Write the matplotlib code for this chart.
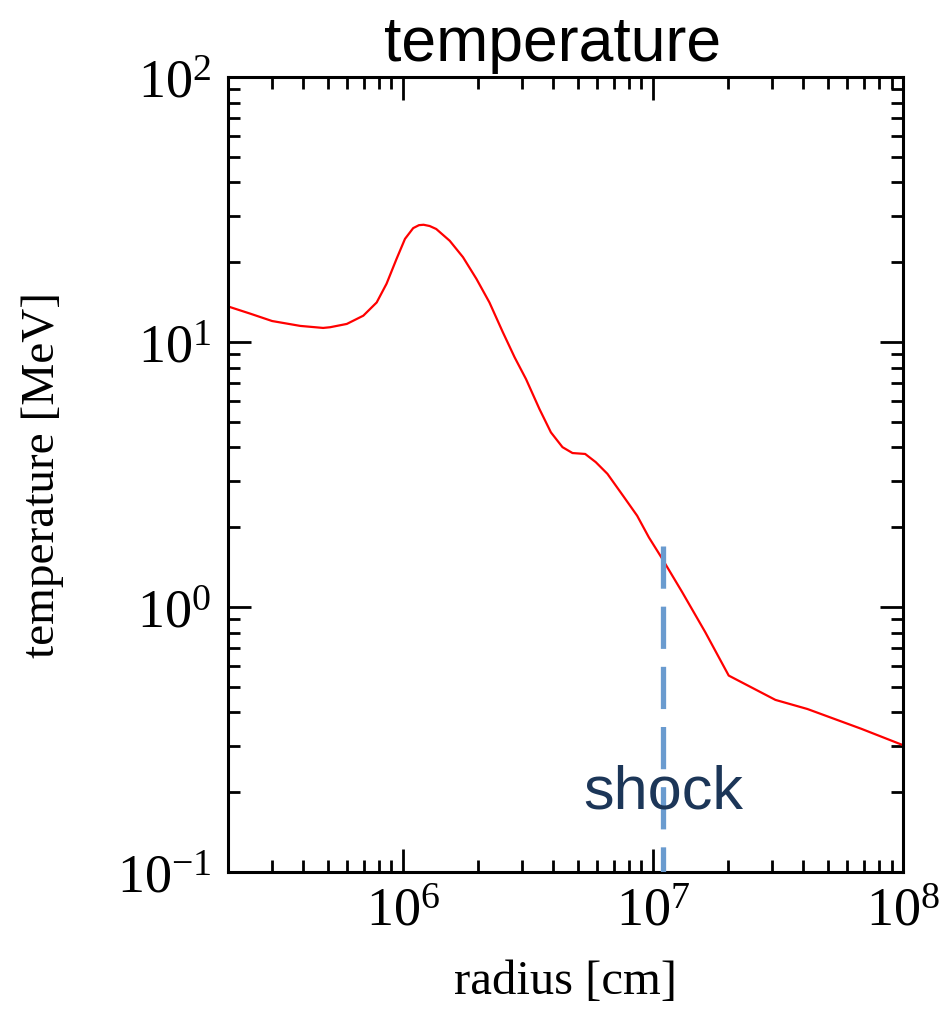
import math
import matplotlib
matplotlib.use("Agg")
import matplotlib.pyplot as plt
from matplotlib.ticker import LogLocator, FuncFormatter, NullFormatter

plt.rcParams["mathtext.fontset"] = "custom"
plt.rcParams["mathtext.rm"] = "Liberation Serif"
plt.rcParams["mathtext.it"] = "Liberation Serif:italic"
plt.rcParams["mathtext.bf"] = "Liberation Serif:bold"

# data
radius = [2.01e5, 2.45e5, 3.0e5, 3.89e5, 4.8e5, 5.12e5, 5.97e5, 6.95e5, 7.86e5, 8.61e5,
          9.44e5, 1.02e6, 1.10e6, 1.16e6, 1.21e6, 1.28e6, 1.36e6, 1.54e6, 1.74e6, 1.97e6,
          2.22e6, 2.51e6, 2.80e6, 3.11e6, 3.52e6, 3.91e6, 4.35e6, 4.77e6, 5.36e6, 5.91e6,
          6.58e6, 7.66e6, 8.65e6, 9.64e6, 1.09e7, 1.31e7, 1.62e7, 2.01e7, 3.09e7,
          4.15e7, 6.81e7, 1.0e8]
temperature = [13.6, 12.8, 12.0, 11.5, 11.3, 11.37, 11.7, 12.57, 14.1, 16.6,
               20.6, 24.5, 26.9, 27.6, 27.7, 27.4, 26.7, 24.1, 20.9, 17.3,
               14.1, 10.9, 8.75, 7.24, 5.58, 4.56, 4.01, 3.81, 3.78, 3.52,
               3.18, 2.60, 2.21, 1.83, 1.52, 1.137, 0.803, 0.551, 0.446,
               0.412, 0.347, 0.301]
shock_radius = 1.1e7
shock_top = 1.7
x_limits = [2.0e5, 1.0e8]
y_limits = [0.1, 100.0]

fig = plt.figure(figsize=(9.47, 10.12), dpi=100)
ax = fig.add_axes([0.2408, 0.1374, 0.9535 - 0.2408, 0.9229 - 0.1374])

ax.plot(radius, temperature, color="#ff0000", lw=1.6)
ax.plot([shock_radius, shock_radius], [shock_top, y_limits[0]], color="#6a9bcf",
        lw=3.8, dashes=(8, 3.4), solid_capstyle="butt", dash_capstyle="butt", zorder=3)
ax.text(shock_radius, 0.2, "shock", color="#1c3658", fontsize=44,
        family="Liberation Sans", ha="center", va="center", zorder=4)

ax.set_xscale("log")
ax.set_yscale("log")
ax.set_xlim(*x_limits)
ax.set_ylim(*y_limits)

ax.xaxis.set_major_locator(LogLocator(base=10, numticks=10))
ax.yaxis.set_major_locator(LogLocator(base=10, numticks=10))
ax.xaxis.set_minor_locator(LogLocator(base=10, subs=range(2, 10), numticks=20))
ax.yaxis.set_minor_locator(LogLocator(base=10, subs=range(2, 10), numticks=20))
ax.xaxis.set_minor_formatter(NullFormatter())
ax.yaxis.set_minor_formatter(NullFormatter())


def fmt(v, pos):
    e = int(round(math.log10(v)))
    return r"$\mathrm{10^{%d}}$" % e


ax.xaxis.set_major_formatter(FuncFormatter(fmt))
ax.yaxis.set_major_formatter(FuncFormatter(fmt))

for s in ax.spines.values():
    s.set_linewidth(2.2)

ax.tick_params(which="both", direction="in", top=True, right=True, width=2.0,
               labelsize=39)
ax.tick_params(which="major", length=16.5)
ax.tick_params(which="minor", length=8.5)
ax.tick_params(axis="x", which="major", pad=10)
ax.tick_params(axis="y", which="major", pad=12)
for lab in ax.get_xticklabels() + ax.get_yticklabels():
    lab.set_family("Liberation Serif")

ax.set_xlabel("radius [cm]", family="Liberation Serif", fontsize=35, labelpad=16)
ax.set_ylabel("temperature [MeV]", family="Liberation Serif", fontsize=34, labelpad=38)
ax.set_title("temperature", family="Liberation Sans", fontsize=45, pad=12,
             x=0.481)

fig.savefig("out.png", dpi=100)
